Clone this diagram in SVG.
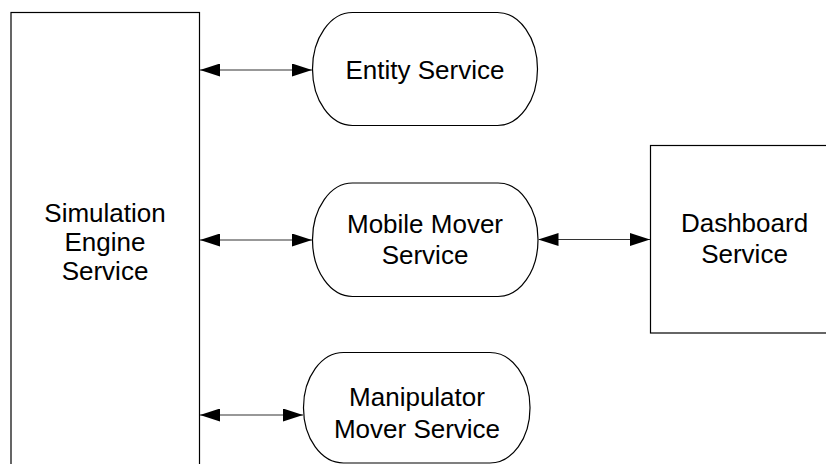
<svg xmlns="http://www.w3.org/2000/svg" width="826" height="464" viewBox="0 0 826 464">
<style>
.box{fill:#fff;stroke:#000;stroke-width:1.2}
.lbl{font-family:"Liberation Sans",Arial,sans-serif;font-size:26px;fill:#000;text-anchor:middle}
.conn{stroke:#333;stroke-width:1.2;fill:none;marker-start:url(#ah);marker-end:url(#ah)}
</style>
<defs>
<marker id="ah" markerUnits="userSpaceOnUse" markerWidth="20" markerHeight="13" refX="20" refY="6.5" orient="auto-start-reverse">
<path d="M0,0 L20,6.5 L0,13 z" fill="#000"/>
</marker>
</defs>
<g id="sim">
<rect class="box" x="11" y="12.5" width="188.5" height="470"/>
<text class="lbl" x="105" y="222">Simulation</text>
<text class="lbl" x="105" y="251">Engine</text>
<text class="lbl" x="105" y="280">Service</text>
</g>
<g id="entity">
<rect class="box" x="312.5" y="12.5" width="225" height="113" rx="40" ry="56.5"/>
<text class="lbl" x="425" y="79">Entity Service</text>
</g>
<g id="mobile">
<rect class="box" x="312.5" y="183" width="225.5" height="113.5" rx="40" ry="56.5"/>
<text class="lbl" x="425" y="233">Mobile Mover</text>
<text class="lbl" x="425" y="264">Service</text>
</g>
<g id="manip">
<rect class="box" x="303.5" y="352.5" width="226.5" height="110.5" rx="40" ry="55"/>
<text class="lbl" x="417" y="406">Manipulator</text>
<text class="lbl" x="417" y="438">Mover Service</text>
</g>
<g id="dash">
<rect class="box" x="650.5" y="145.5" width="188" height="187.5"/>
<text class="lbl" x="744.5" y="232">Dashboard</text>
<text class="lbl" x="744.5" y="263">Service</text>
</g>
<g id="connectors">
<line class="conn" x1="200" y1="70" x2="312" y2="70"/>
<line class="conn" x1="200" y1="240" x2="312" y2="240"/>
<line class="conn" x1="538.5" y1="239.5" x2="650" y2="239.5"/>
<line class="conn" x1="200" y1="415" x2="303" y2="415"/>
</g>
</svg>
